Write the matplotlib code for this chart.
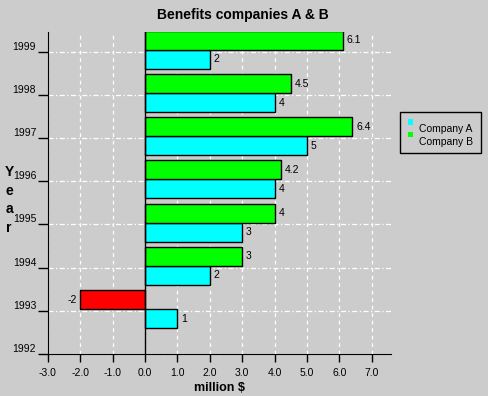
import matplotlib
matplotlib.use("Agg")
from matplotlib import pyplot as plt
from matplotlib.patches import Rectangle

years = [1993, 1994, 1995, 1996, 1997, 1998, 1999]
company_a = [1, 2, 3, 4, 5, 4, 2]
company_b = [-2, 3, 4, 4.2, 6.4, 4.5, 6.1]
series_names = ["Company A", "Company B"]
year_ticks = [1992, 1993, 1994, 1995, 1996, 1997, 1998, 1999]
x_ticks = [-3, -2, -1, 0, 1, 2, 3, 4, 5, 6, 7]

bg = "#cccccc"
plt.rcParams['font.family'] = ['Liberation Sans', 'DejaVu Sans']

W, H = 489, 396
fig = plt.figure(figsize=(W / 100, H / 100), dpi=100, facecolor=bg)
ax = fig.add_axes([0.098, 0.106, 0.702, 0.813])
ax.set_facecolor(bg)

h = 0.44
off = 0.04
ya = [y + off - h / 2 for y in years]
yb = [y + off + h / 2 for y in years]

col_a = "#00ffff"
col_b = ["#ff0000" if v < 0 else "#00ff00" for v in company_b]

ax.barh(ya, company_a, height=h, color=col_a, edgecolor="black", linewidth=1, zorder=3)
ax.barh(yb, company_b, height=h, color=col_b, edgecolor="black", linewidth=1, zorder=3)
ax.axvline(0, color="black", linewidth=1, zorder=4)

# value labels
for y, v in zip(ya + yb, company_a + company_b):
    if v >= 0:
        ax.text(v + 0.12, y, "%g" % v, va="center", ha="left", fontsize=7.5, zorder=5)
    else:
        ax.text(v - 0.12, y, "%g" % v, va="center", ha="right", fontsize=7.5, zorder=5)

ax.set_xlim(-3, 7.6)
ax.set_ylim(1992, 1999.45)
ax.set_xticks(x_ticks)
ax.set_xticklabels(["%.1f" % t for t in x_ticks], fontsize=7.5)
ax.set_yticks(year_ticks)
ax.set_yticklabels([str(y) for y in year_ticks], fontsize=7.5)
for tl in ax.get_yticklabels():
    tl.set_verticalalignment("bottom")

ax.tick_params(axis="y", direction="out", length=7.5, width=1, pad=1)
ax.tick_params(axis="x", direction="out", length=6, width=1, pad=4)

ax.grid(True, axis="x", color="white", linestyle=(0, (3, 3)), linewidth=0.9, zorder=1)
ax.grid(True, axis="y", color="white", linestyle=(0, (4, 2, 1, 2)), linewidth=0.9, zorder=1)
ax.set_axisbelow(True)

ax.spines["top"].set_visible(False)
ax.spines["right"].set_visible(False)

ax.set_xlabel("million $", fontsize=9, fontweight="bold", labelpad=3)
fig.text(9 / W, 0.495, "Y\ne\na\nr", fontsize=10, fontweight="bold",
         ha="center", va="center", linespacing=1.45)

fig.text(0.497, 0.962, "Benefits companies A & B", fontsize=10, fontweight="bold",
         ha="center", va="center")

# legend box drawn by hand (markers sit above their labels like in the original)
fig.patches.append(Rectangle((400 / W, 1 - 153 / H), 81 / W, 41 / H,
                             transform=fig.transFigure, facecolor=bg,
                             edgecolor="black", linewidth=1))
leg_cols = ["#00ffff", "#00ff00"]
for i, (name, c) in enumerate(zip(series_names, leg_cols)):
    my = 122 + 12.5 * i
    ty = 129 + 13 * i
    fig.patches.append(Rectangle((408 / W, 1 - (my + 2.5) / H), 5 / W, 5 / H,
                                 transform=fig.transFigure, facecolor=c,
                                 edgecolor="none"))
    fig.text(419 / W, 1 - ty / H, name, fontsize=7.5, ha="left", va="center")

fig.savefig("out.png", dpi=100, facecolor=bg)
